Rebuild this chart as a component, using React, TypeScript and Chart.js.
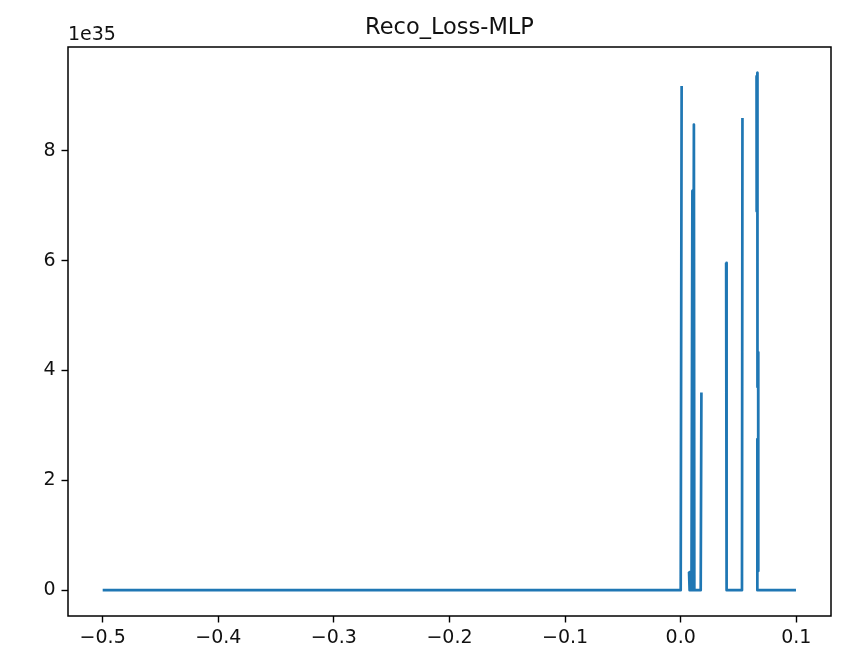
import React, { useEffect, useRef } from "react";
import { Chart, registerables } from "chart.js";

Chart.register(...registerables);

// Reconstruction loss of the MLP across the parameter sweep (values in units of 1e35).
// A null value marks a break where the loss was not finite.
const SWEEP_X = [
  -0.5, 0.0, 0.0008,
  0.0038,
  0.0072, 0.0075, 0.0079, 0.0083, 0.0087, 0.0093, 0.0101, 0.0105, 0.0114, 0.0118, 0.0173, 0.0179,
  0.03,
  0.0393, 0.0397, 0.053, 0.0534,
  0.06,
  0.0656, 0.0657, 0.0663, 0.0664, 0.0670, 0.0671, 0.0664, 0.0662, 0.0664, 0.0997,
];
const LOSS_E35 = [
  0, 0, 9.18,
  null,
  0.33, 0, 0.31, 0, 0.28, 0, 7.27, 0, 8.48, 0, 0, 3.6,
  null,
  5.96, 0, 0, 8.6,
  null,
  9.36, 6.9, 9.42, 3.7, 4.33, 0.35, 2.75, 0.3, 0, 0,
];

const X_TICKS = [-0.5, -0.4, -0.3, -0.2, -0.1, 0.0, 0.1];
const Y_TICKS = [0, 2, 4, 6, 8];
const X_RANGE = [-0.53, 0.13];
const Y_RANGE = [-0.471, 9.891];

const TITLE = "Reco_Loss-MLP";
const OFFSET_LABEL = "1e35";
const LINE_COLOR = "#1f77b4";
const TEXT_COLOR = "#111";
const FONT = "'DejaVu Sans', sans-serif";

const framePlugin = {
  id: "frameAndTitle",
  afterDatasetsDraw(chart: any) {
    const { ctx, chartArea } = chart;
    ctx.save();
    ctx.strokeStyle = "#000";
    ctx.lineWidth = 1.5;
    ctx.strokeRect(
      chartArea.left,
      chartArea.top,
      chartArea.right - chartArea.left,
      chartArea.bottom - chartArea.top
    );
    ctx.fillStyle = TEXT_COLOR;
    ctx.font = `22.5px ${FONT}`;
    ctx.textAlign = "center";
    ctx.textBaseline = "alphabetic";
    ctx.fillText(TITLE, (chartArea.left + chartArea.right) / 2, 34);
    ctx.font = `19px ${FONT}`;
    ctx.textAlign = "left";
    ctx.fillText(OFFSET_LABEL, chartArea.left, 40);
    ctx.restore();
  },
};

export default function App() {
  const canvasRef = useRef<HTMLCanvasElement | null>(null);

  useEffect(() => {
    if (!canvasRef.current) return;
    const points = SWEEP_X.map((x, i) => ({ x, y: LOSS_E35[i] }));
    const chart = new Chart(canvasRef.current, {
      type: "line",
      data: {
        datasets: [
          {
            data: points as any,
            borderColor: LINE_COLOR,
            borderWidth: 2.7,
            borderJoinStyle: "round",
            borderCapStyle: "butt",
            pointRadius: 0,
            fill: false,
            spanGaps: false,
            tension: 0,
          },
        ],
      },
      options: {
        animation: false,
        responsive: false,
        devicePixelRatio: 1,
        layout: { padding: { top: 47, right: 20, left: 0, bottom: 0 } },
        plugins: {
          legend: { display: false },
          title: { display: false },
          tooltip: { enabled: false },
        },
        scales: {
          x: {
            type: "linear",
            min: X_RANGE[0],
            max: X_RANGE[1],
            afterBuildTicks: (scale: any) => {
              scale.ticks = X_TICKS.map((v) => ({ value: v }));
            },
            afterFit: (scale: any) => {
              scale.height = 36;
            },
            border: { display: false },
            grid: {
              display: true,
              drawOnChartArea: false,
              drawTicks: true,
              tickLength: 6.5,
              tickWidth: 1.4,
              color: "#000",
            },
            ticks: {
              color: TEXT_COLOR,
              font: { family: FONT, size: 19 },
              padding: 4,
              maxRotation: 0,
              autoSkip: false,
              callback: (v: any) => Number(v).toFixed(1).replace("-", "\u2212"),
            },
          },
          y: {
            type: "linear",
            min: Y_RANGE[0],
            max: Y_RANGE[1],
            afterBuildTicks: (scale: any) => {
              scale.ticks = Y_TICKS.map((v) => ({ value: v }));
            },
            afterFit: (scale: any) => {
              scale.width = 68;
            },
            border: { display: false },
            grid: {
              display: true,
              drawOnChartArea: false,
              drawTicks: true,
              tickLength: 6.5,
              tickWidth: 1.4,
              color: "#000",
            },
            ticks: {
              color: TEXT_COLOR,
              font: { family: FONT, size: 19 },
              padding: 6,
              autoSkip: false,
              callback: (v: any) => String(v),
            },
          },
        },
      },
      plugins: [framePlugin],
    });
    return () => chart.destroy();
  }, []);

  return (
    <div
      style={{
        position: "absolute",
        left: 0,
        top: 0,
        width: 851,
        height: 652,
        background: "#fff",
      }}
    >
      <canvas ref={canvasRef} width={851} height={652} />
    </div>
  );
}
